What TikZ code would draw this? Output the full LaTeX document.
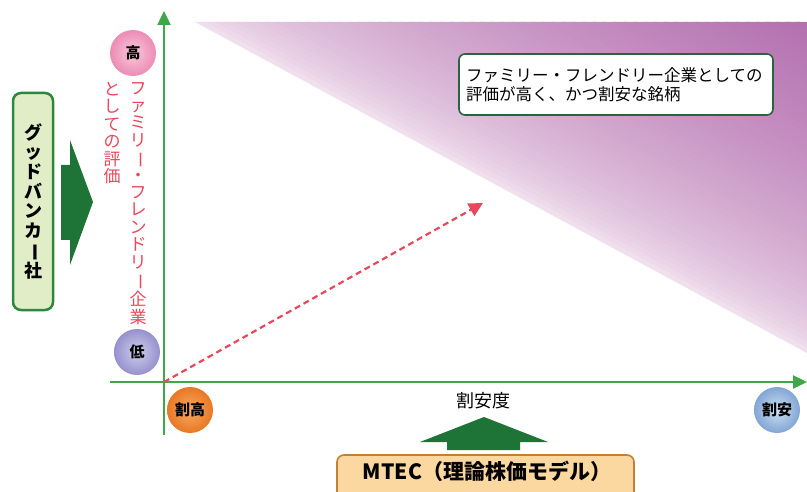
\documentclass[tikz,border=0pt]{standalone}
\usepackage{fontspec}
\setmainfont{Noto Sans CJK JP}
\usetikzlibrary{arrows.meta}
\begin{document}
\begin{tikzpicture}[x=1pt, y=-1pt,
    axis/.style={line width=2.4pt, draw=axis-green, -{Triangle[length=14pt,width=13pt]}},
    level/.style={circle, minimum size=46pt, inner sep=0pt, font=\bfseries\fontsize{15}{15}\selectfont},
    vlabel/.style={align=center, inner sep=0pt, text=fam-red, font=\fontsize{17}{17.4}\selectfont},
    bigarrow/.style={fill=arrow-green}]
    \definecolor{axis-green}{RGB}{62,168,72}
    \definecolor{arrow-green}{RGB}{30,115,55}
    \definecolor{fam-red}{RGB}{232,72,92}
    \definecolor{tri-dark}{RGB}{180,112,176}
    \definecolor{tri-light}{RGB}{244,230,241}
    \definecolor{box-green}{RGB}{45,135,62}
    \definecolor{box-fill}{RGB}{224,237,198}
    \definecolor{call-green}{RGB}{40,100,65}
    \definecolor{mtec-fill}{RGB}{251,216,160}
    \definecolor{mtec-line}{RGB}{196,128,48}
    \useasboundingbox (0,0) rectangle (807,492);
    % shaded area, strips parallel to the diagonal
    \foreach \i in {0,...,59} {
      \pgfmathsetmacro{\ta}{\i/60}
      \pgfmathsetmacro{\tb}{min(1,(\i+1.3)/60)}
      \pgfmathsetmacro{\p}{min(100,100*((\i+0.5)/60)^0.6)}
      \fill[tri-dark!\p!tri-light] (195+612*\ta,22) -- (807,353-331*\ta) -- (807,353-331*\tb) -- (195+612*\tb,22) -- cycle;
    }
    \node[draw=call-green, line width=1.6pt, fill=white, rounded corners=6pt, minimum width=314pt, minimum height=61pt, text width=300pt, align=left, inner sep=0pt, font=\fontsize{16.5}{19}\selectfont] (goal) at (616,84.5) {ファミリー・フレンドリー企業としての\\評価が高く、かつ割安な銘柄};
    \coordinate (O) at (164,382);
    \coordinate (xs) at (110,382);
    \coordinate (xe) at (807,382);
    \coordinate (ys) at (164,435);
    \coordinate (ye) at (164,11);
    \coordinate (T) at (483,203);
    \draw[axis] (xs) -- (xe);
    \draw[axis] (ys) -- (ye);
    \draw[fam-red, line width=2.2pt, dash pattern=on 6pt off 4pt, -{Triangle[length=14pt,width=14pt]}] (O) -- (T);
    \node[level, inner color={rgb,255:red,250;green,200;blue,220}, outer color={rgb,255:red,236;green,140;blue,180}] (high) at (133,53) {高};
    \node[level, inner color={rgb,255:red,208;green,204;blue,236}, outer color={rgb,255:red,150;green,145;blue,205}] (low) at (137,352) {低};
    \node[level, inner color={rgb,255:red,248;green,170;blue,100}, outer color={rgb,255:red,232;green,120;blue,35}] (dear) at (190,410) {割高};
    \node[level, inner color={rgb,255:red,205;green,222;blue,242}, outer color={rgb,255:red,130;green,166;blue,212}] (cheap) at (777,410) {割安};
    \node[vlabel, anchor=north] (fam1) at (138,82) {フ\\ァ\\ミ\\リ\\\rotatebox[origin=c]{-90}{ー}\\・\\フ\\レ\\ン\\ド\\リ\\\rotatebox[origin=c]{-90}{ー}\\企\\業};
    \node[vlabel, anchor=north] (fam2) at (112,82) {と\\し\\て\\の\\評\\価};
    \node[draw=box-green, line width=2.5pt, fill=box-fill, rounded corners=8pt, minimum width=40pt, minimum height=217pt, inner sep=0pt, align=center, font=\bfseries\fontsize{18}{19.6}\selectfont] (gbc) at (33,201.5) {グ\\ッ\\ド\\バ\\ン\\カ\\\rotatebox[origin=c]{-90}{ー}\\社};
    \fill[bigarrow] (61,165) -- (70,165) -- (70,140) -- (93,202) -- (70,265) -- (70,240) -- (61,240) -- cycle;
    \node[font=\fontsize{18}{18}\selectfont] (cheapness) at (483,401) {割安度};
    \fill[bigarrow] (447,450) -- (447,442) -- (420,442) -- (484,417) -- (548,442) -- (520,442) -- (520,450) -- cycle;
    \draw[mtec-line, line width=1.6pt, fill=mtec-fill, rounded corners=7pt] (337,455) rectangle (634,510);
    \node[font=\bfseries\fontsize{21}{21}\selectfont] (mtec) at (487,471) {MTEC（理論株価モデル）};
\end{tikzpicture}
\end{document}
